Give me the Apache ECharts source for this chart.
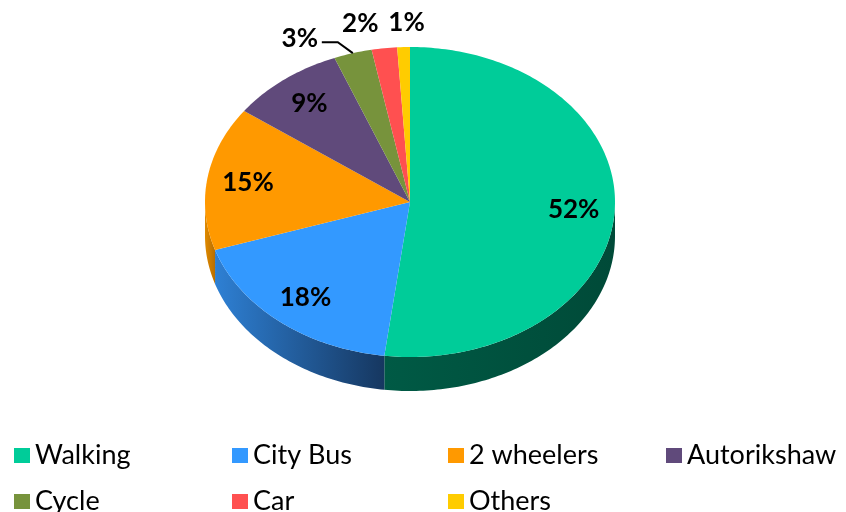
<!DOCTYPE html>
<html>
<head>
<meta charset="utf-8">
<title>Mode share</title>
<script type="text/javascript" src="https://cdn.jsdelivr.net/npm/echarts@6/dist/echarts.min.js"></script>
<style>
	html, body { margin: 0; padding: 0; background: #fff; }
	#main { width: 846px; height: 512px; }
</style>
</head>
<body>
<div id="main"></div>
<script type="text/javascript">
	// data (percent)
	var categories = ['Walking', 'City Bus', '2 wheelers', 'Autorikshaw', 'Cycle', 'Car', 'Others'];
	var shares = [52, 18, 15, 9, 3, 2, 1];
	var topColors = ['#00CC99', '#3399FF', '#FF9900', '#604A7B', '#77933C', '#FF5050', '#FFCC00'];
	var sideColors = [
		['#005A45', '#004A38'],
		['#2E80D4', '#163760'],
		['#E08A00', '#B86E00'],
		['#4A3960', '#3A2C4C'],
		['#5C7330', '#4A5C26'],
		['#C83C3C', '#A02F2F'],
		['#CCA300', '#A88600']
	];

	// geometry of the tilted pie
	var cx = 410, cy = 202, rx = 205, ry = 155, depth = 34;
	// labels that sit outside the pie: offset from the rim point, and leader line
	var outsideLabels = {
		'Cycle': { dx: -53, dy: -15, leader: true },
		'Car': { dx: -24, dy: -25, leader: false },
		'Others': { dx: 3, dy: -24, leader: false }
	};

	var total = shares.reduce(function (a, b) { return a + b; }, 0);
	var cum = [0];
	for (var i = 0; i < shares.length; i++) cum.push(cum[i] + shares[i]);

	function ang(p) { return -90 + p / total * 360; }
	function pt(deg, k, dy) {
		var t = deg * Math.PI / 180;
		return [cx + rx * k * Math.cos(t), cy + ry * k * Math.sin(t) + (dy || 0)];
	}
	function arc(a, b, dy) {
		var pts = [];
		var n = Math.max(2, Math.ceil(Math.abs(b - a)));
		for (var j = 0; j <= n; j++) pts.push(pt(a + (b - a) * j / n, 1, dy));
		return pts;
	}

	function makeRender(idx) {
		return function (params, api) {
			var v = api.value(0);
			var a = ang(cum[idx]), b = ang(cum[idx] + v);
			var children = [];
			// front wall
			var s = Math.max(a, 0), e = Math.min(b, 180);
			if (s < e) {
				var up = arc(s, e, 0), down = arc(s, e, depth).reverse();
				children.push({
					type: 'polygon',
					shape: { points: up.concat(down) },
					style: {
						fill: new echarts.graphic.LinearGradient(0, 0, 1, 0, [
							{ offset: 0, color: sideColors[idx][0] },
							{ offset: 1, color: sideColors[idx][1] }
						])
					}
				});
			}
			// top face
			children.push({
				type: 'polygon',
				shape: { points: [[cx, cy]].concat(arc(a, b, 0)) },
				style: { fill: topColors[idx] }
			});
			// label
			var mid = (a + b) / 2;
			var txt = v + '%';
			var font = 'bold 26px Lato';
			var o = outsideLabels[categories[idx]];
			if (o) {
				var rim = pt(mid, 1, 0);
				var lx = rim[0] + o.dx, ly = rim[1] + o.dy;
				if (o.leader) {
					children.push({
						type: 'polyline',
						shape: { points: [rim, [rim[0] - 15, rim[1] - 11], [lx + 22, rim[1] - 11]] },
						style: { stroke: '#000', lineWidth: 2, fill: null },
						z2: 90
					});
				}
				children.push({
					type: 'text', z2: 100,
					style: { text: txt, x: lx, y: ly, font: font, fill: '#000', align: 'center', verticalAlign: 'middle' }
				});
			} else {
				var lp = pt(mid, 0.8, 0);
				children.push({
					type: 'text', z2: 100,
					style: { text: txt, x: lp[0], y: lp[1], font: font, fill: '#000', align: 'center', verticalAlign: 'middle' }
				});
			}
			return { type: 'group', children: children };
		};
	}

	var series = categories.map(function (name, idx) {
		return {
			type: 'custom',
			name: name,
			coordinateSystem: 'none',
			itemStyle: { color: topColors[idx] },
			renderItem: makeRender(idx),
			data: [[shares[idx]]],
			silent: true,
			animation: false
		};
	});

	var legendCols = [[0, 4], [1, 5], [2, 6], [3]];
	var legendLeft = [14, 232, 448, 666];
	var legends = legendCols.map(function (col, c) {
		return {
			orient: 'vertical',
			left: legendLeft[c],
			top: 442,
			height: 90,
			icon: 'rect',
			itemWidth: 16,
			itemHeight: 15,
			itemGap: 19,
			padding: 0,
			selectedMode: false,
			textStyle: { fontFamily: 'Lato', fontSize: 27, color: '#000', lineHeight: 26 },
			data: col.map(function (k) { return categories[k]; })
		};
	});

	var myChart = echarts.init(document.getElementById('main'));
	myChart.setOption({
		animation: false,
		legend: legends,
		series: series
	});
</script>
</body>
</html>
